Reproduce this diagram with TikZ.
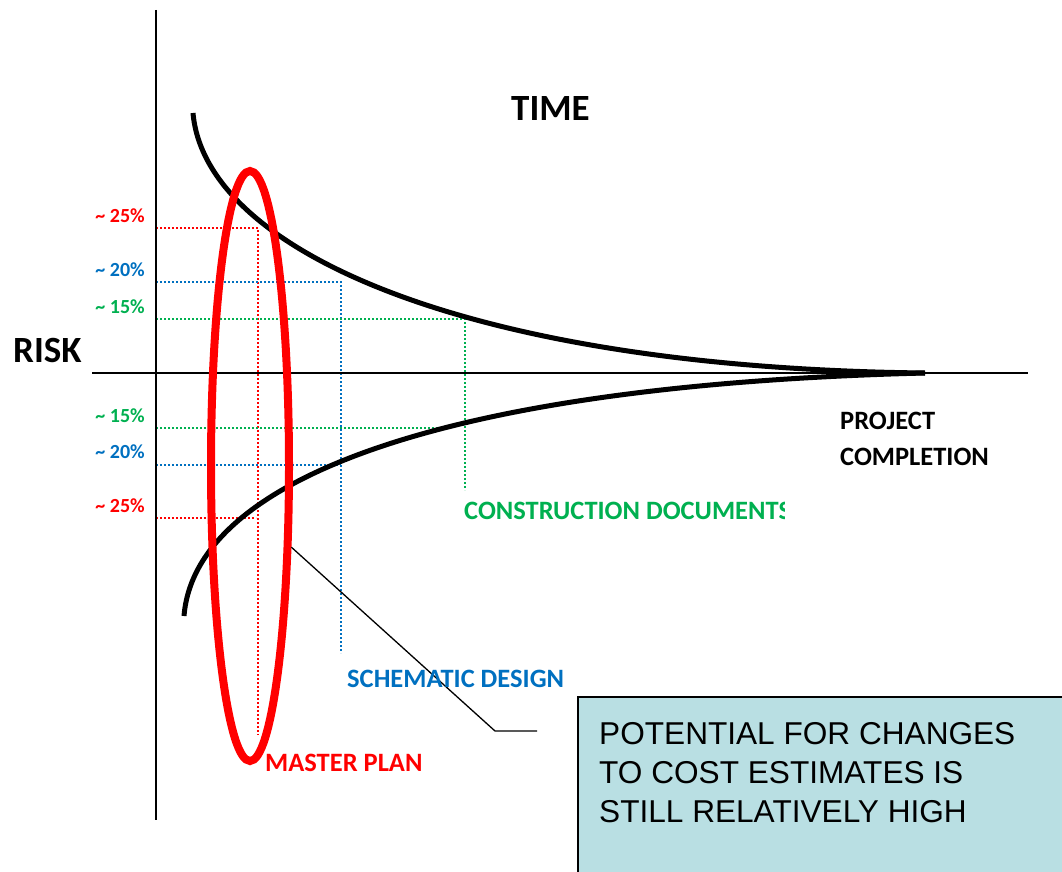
\documentclass[tikz,border=0pt]{standalone}
\usepackage{fontspec}
\setmainfont{Carlito}
\newfontfamily\calloutfont{Liberation Sans}
\usetikzlibrary{shapes.geometric}
\definecolor{mpred}{RGB}{255,0,0}
\definecolor{sdblue}{RGB}{0,112,192}
\definecolor{cdgreen}{RGB}{0,176,80}
\definecolor{calloutfill}{RGB}{185,223,227}

\begin{document}
\begin{tikzpicture}[x=1pt, y=-1pt,
    riskcurve/.style={line width=5pt},
    guide/.style={line width=1.3pt, dash pattern=on 2pt off 2pt},
    pct/.style={font=\bfseries\fontsize{20}{24}\selectfont, anchor=base east, inner sep=0pt},
    phase/.style={font=\bfseries\fontsize{26.5}{30}\selectfont, anchor=base west, inner sep=0pt}]
    \useasboundingbox (0,0) rectangle (1062,872);

    % Axes
    \coordinate (ytop) at (156,10);
    \coordinate (ybot) at (156,820);
    \coordinate (xleft) at (92,373);
    \coordinate (xright) at (1028,373);

    % Guide lines of the phases
    \coordinate (mpup) at (258,228);
    \coordinate (mplow) at (256,518);
    \coordinate (mpend) at (258,735);
    \coordinate (sdup) at (341,282);
    \coordinate (sdlow) at (341,465);
    \coordinate (sdend) at (341,653);
    \coordinate (cdup) at (465,319);
    \coordinate (cdlow) at (446,428);
    \coordinate (cdend) at (465,490);
    \draw[guide, mpred] (mpup -| ytop) -- (mpup) -- (mpend);
    \draw[guide, mpred] (mplow -| ytop) -- (mplow);
    \draw[guide, sdblue] (sdup -| ytop) -- (sdup) -- (sdend);
    \draw[guide, sdblue] (sdlow -| ytop) -- (sdlow);
    \draw[guide, cdgreen] (cdup -| ytop) -- (cdup) -- (cdend);
    \draw[guide, cdgreen] (cdlow -| ytop) -- (cdlow);

    \draw[line width=2.5pt] (ytop) -- (ybot);
    \draw[line width=2pt] (xleft) -- (xright);

    % Risk curves
    \coordinate (upstart) at (193,113);
    \coordinate (lowstart) at (184,616);
    \coordinate (completion) at (925,373);
    \draw[riskcurve] (upstart) .. controls (205,250) and (465,368) .. (completion);
    \draw[riskcurve] (lowstart) .. controls (195,480) and (440,385) .. (completion);

    % Master plan ring and leader
    \node[ellipse, draw=mpred, line width=8pt, minimum width=78pt, minimum height=590pt, inner sep=0pt] (masterring) at (250,466) {};
    \coordinate (leaderbend) at (495,731);
    \coordinate (leaderend) at (537,731);
    \draw[line width=1.3pt] (masterring.-63) -- (leaderbend) -- (leaderend);

    % Titles
    \node[font=\bfseries\fontsize{37}{40}\selectfont, anchor=base west, inner sep=0pt] (time) at (511,121) {TIME};
    \node[font=\bfseries\fontsize{37}{40}\selectfont, anchor=base west, inner sep=0pt] (risk) at (13,362) {RISK};
    \node[font=\bfseries\fontsize{26.5}{36}\selectfont, anchor=north west, align=left, inner sep=0pt] (projend) at (840,412) {PROJECT\\COMPLETION};

    % Percentages
    \node[pct, mpred] (mppctup) at (145,222) {\textasciitilde{} 25\%};
    \node[pct, sdblue] (sdpctup) at (145,276) {\textasciitilde{} 20\%};
    \node[pct, cdgreen] (cdpctup) at (145,313) {\textasciitilde{} 15\%};
    \node[pct, cdgreen] (cdpctlow) at (145,422) {\textasciitilde{} 15\%};
    \node[pct, sdblue] (sdpctlow) at (145,458) {\textasciitilde{} 20\%};
    \node[pct, mpred] (mppctlow) at (145,512) {\textasciitilde{} 25\%};

    % Phase names
    \begin{scope}
        \clip (440,480) rectangle (784,540);
        \node[phase, cdgreen] (cdname) at (464,519) {CONSTRUCTION DOCUMENTS};
    \end{scope}
    \node[phase, sdblue] (sdname) at (347,687) {SCHEMATIC DESIGN};
    \node[phase, mpred] (mpname) at (265,771) {MASTER PLAN};

    % Callout
    \node[draw, line width=2pt, fill=calloutfill, anchor=north west, outer sep=0pt, minimum width=520pt, minimum height=200pt] (callout) at (578,697) {};
    \node[font=\calloutfont\fontsize{31.6}{39}\selectfont, anchor=north west, align=left, inner sep=0pt] (callouttext) at ([xshift=21pt, yshift=-25pt]callout.north west) {POTENTIAL FOR CHANGES\\TO COST ESTIMATES IS\\STILL RELATIVELY HIGH};
\end{tikzpicture}
\end{document}
